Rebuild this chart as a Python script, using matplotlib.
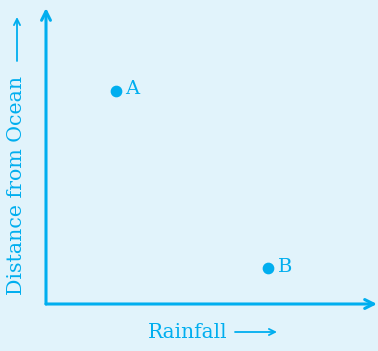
import matplotlib.pyplot as plt

# points (axis units 0-10)
names = ['A', 'B']
rainfall = [2.1, 6.7]
distance = [7.2, 1.2]

cyan = '#00aeef'
bg = '#e1f3fb'

plt.rcParams['font.family'] = ['DejaVu Serif', 'DejaVu Sans']

fig = plt.figure(figsize=(3.78, 3.51), dpi=100, facecolor=bg)
ax = fig.add_axes([46 / 378, 47 / 351, 331 / 378, 296 / 351])
ax.set_facecolor(bg)
ax.set_xlim(0, 10)
ax.set_ylim(0, 10)
for s in ax.spines.values():
    s.set_visible(False)
ax.set_xticks([])
ax.set_yticks([])

# axes with arrows
for tip in [(1.0, 0), (0, 1.0)]:
    ax.annotate('', xy=tip, xytext=(0, 0), xycoords='axes fraction',
                arrowprops=dict(arrowstyle='->', color=cyan, lw=2.2,
                                mutation_scale=16, shrinkA=0, shrinkB=0),
                annotation_clip=False)

ax.scatter(rainfall, distance, s=55, color=cyan, zorder=3, clip_on=False)
for n, x, y in zip(names, rainfall, distance):
    ax.annotate(n, (x, y), xytext=(7, 1), textcoords='offset points',
                color=cyan, fontsize=14, va='center')

# axis titles with thin arrows
fig.text(148 / 378, 1 - 332 / 351, 'Rainfall', color=cyan,
         fontsize=14.5, va='center', ha='left')
fig.text(17 / 378, 1 - 295 / 351, 'Distance from Ocean', color=cyan,
         fontsize=14.8, va='bottom', ha='center', rotation=90)
thin = dict(arrowstyle='->', color=cyan, lw=1.3, mutation_scale=11,
            shrinkA=0, shrinkB=0)
fig.add_artist(plt.matplotlib.patches.FancyArrowPatch(
    (235 / 378, 1 - 332 / 351), (277 / 378, 1 - 332 / 351),
    transform=fig.transFigure, **thin))
fig.add_artist(plt.matplotlib.patches.FancyArrowPatch(
    (17 / 378, 1 - 61 / 351), (17 / 378, 1 - 17 / 351),
    transform=fig.transFigure, **thin))

fig.savefig('out.png', dpi=100, facecolor=bg)
